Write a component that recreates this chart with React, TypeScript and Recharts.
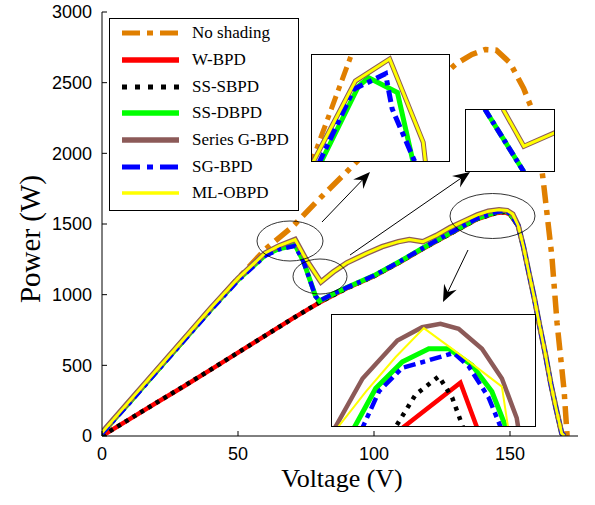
import React from "react";
import { LineChart, Line, XAxis, YAxis, Legend } from "recharts";

// ---- main curves (voltage V, power W) ----
const noShadeV = [0, 10, 20, 30, 40, 50, 60, 70, 80, 90, 100, 110, 120, 130, 136, 141, 145, 150, 155, 158.5, 160.5, 162.5, 165.4, 167.3, 169.9, 171];
const noShadeP = [20, 240, 460, 680, 900, 1115, 1320, 1480, 1680, 1870, 2065, 2260, 2460, 2630, 2700, 2735, 2730, 2640, 2460, 2290, 2080, 1760, 1270, 800, 320, 0];

const wbpdV = [0, 10, 20, 30, 40, 50, 60, 70, 76, 80, 85, 90, 100, 110, 118, 128, 138, 145, 148, 150, 153, 155, 157, 159, 161, 163, 165, 167, 169, 170];
const wbpdP = [0, 118, 235, 350, 470, 590, 710, 830, 900, 945, 995, 1045, 1130, 1235, 1325, 1430, 1535, 1578, 1583, 1568, 1485, 1330, 1145, 965, 765, 575, 365, 185, 18, 0];

const sssbpdV = [0, 10, 20, 30, 40, 50, 60, 70, 76, 80, 85, 90, 100, 110, 118, 128, 138, 145, 148, 150, 153, 155, 157, 159, 161, 163, 165, 167, 169, 170];
const sssbpdP = [0, 118, 235, 352, 470, 590, 710, 830, 900, 946, 996, 1045, 1131, 1236, 1326, 1431, 1536, 1579, 1585, 1570, 1487, 1332, 1147, 967, 767, 577, 367, 187, 18, 0];

const ssdbpdV = [0, 10, 20, 30, 40, 50, 60, 65, 71, 74, 78.5, 80, 85, 90, 100, 110, 118, 128, 138, 145, 148, 150, 153, 155, 157, 159, 161, 163, 165, 167, 169, 170];
const ssdbpdP = [20, 235, 455, 675, 895, 1105, 1280, 1325, 1350, 1240, 990, 955, 1005, 1050, 1135, 1240, 1330, 1436, 1540, 1585, 1595, 1575, 1490, 1335, 1150, 970, 770, 580, 370, 190, 20, 0];

const seriesGV = [0, 10, 20, 30, 40, 50, 60, 65, 71, 75, 80.5, 85, 90, 97, 103, 109, 113, 118, 123, 128, 133, 138, 142, 146, 149, 151, 153, 155, 157, 159, 161, 163, 165, 167, 169, 170];
const seriesGP = [25, 245, 465, 685, 905, 1115, 1295, 1345, 1390, 1250, 1090, 1160, 1225, 1290, 1340, 1375, 1390, 1375, 1420, 1475, 1520, 1565, 1590, 1600, 1595, 1570, 1490, 1335, 1150, 970, 770, 580, 370, 190, 20, 0];

const sgbpdV = [0, 10, 20, 30, 40, 50, 60, 65, 71, 74, 78.5, 80, 85, 90, 100, 110, 118, 128, 138, 145, 148, 150, 153, 155, 157, 159, 161, 163, 165, 167, 169, 170];
const sgbpdP = [18, 232, 452, 672, 890, 1100, 1275, 1320, 1345, 1238, 988, 957, 1005, 1050, 1135, 1240, 1330, 1436, 1540, 1585, 1595, 1575, 1490, 1335, 1150, 970, 770, 580, 370, 190, 20, 0];

const mlobpdV = [0, 10, 20, 30, 40, 50, 60, 65, 71, 75, 80.5, 85, 90, 97, 103, 109, 113, 118, 123, 128, 133, 138, 142, 146, 149, 151, 153, 155, 157, 159, 161, 163, 165, 167, 169, 170];
const mlobpdP = [25, 245, 465, 685, 905, 1115, 1295, 1345, 1390, 1250, 1090, 1160, 1225, 1290, 1340, 1375, 1390, 1375, 1420, 1475, 1520, 1565, 1590, 1600, 1595, 1570, 1490, 1335, 1150, 970, 770, 580, 370, 190, 20, 0];

// ---- inset 1 : first peak (~71 V) ----
const in1OrangeV = [67.9, 69.8];
const in1OrangeP = [1326, 1398];
const in1GreenV = [68.35, 70.04, 70.48, 71.74, 72.45];
const in1GreenP = [1328, 1376, 1381, 1372, 1328];
const in1BlueV = [68.28, 69.83, 70.86, 71.22, 71.51, 72.55];
const in1BlueP = [1328, 1374, 1381, 1383.5, 1362, 1328];
const in1YellowV = [68.0, 69.9, 71.4, 72.87, 72.98];
const in1YellowP = [1328, 1379, 1392.6, 1341.5, 1328];

// ---- inset 2 : dip (~80 V) ----
const in2GreenV = [78.5, 81.6];
const in2GreenP = [1112, 948];
const in2YellowV = [79.95, 81.6, 84.1];
const in2YellowP = [1112, 1015, 1051];

// ---- inset 3 : global peak (~148 V) ----
const in3BrownV = [140.0, 140.31, 142.41, 145.15, 147.11, 148.55, 149.98, 151.82, 153.39, 154.56, 154.75];
const in3BrownP = [1546, 1550, 1575.7, 1596.2, 1603.4, 1605.2, 1602.5, 1591.8, 1575.7, 1554.3, 1546];
const in3YellowV = [140.2, 142.67, 145.02, 147.24, 149.98, 153.39, 153.95];
const in3YellowP = [1547, 1568.6, 1587.3, 1602.9, 1589.1, 1571.3, 1546];
const in3GreenV = [141.5, 143.45, 145.55, 147.63, 149.2, 151.04, 152.6, 153.9];
const in3GreenP = [1546, 1570.4, 1584.7, 1591.8, 1591.8, 1582.8, 1568.6, 1546];
const in3BlueV = [142.2, 143.71, 145.55, 147.37, 149.59, 150.77, 152.34, 153.5];
const in3BlueP = [1546, 1568.8, 1581.5, 1585, 1589.5, 1582.3, 1565.4, 1546];
const in3BlackV = [144.7, 146.59, 148.42, 149.47, 150.5];
const in3BlackP = [1546, 1567, 1576.8, 1565.4, 1546];
const in3RedV = [145.0, 150.12, 151.6];
const in3RedP = [1546, 1573.4, 1546];

const xTicks = [0, 50, 100, 150];
const yTicks = [0, 500, 1000, 1500, 2000, 2500, 3000];

const ORANGE = "#E07F00";
const BROWN = "#8C5A58";

const pts = (vs: number[], ps: number[]) => vs.map((v, i) => ({ v, p: ps[i] }));

const legendItems = [
  { name: "No shading", color: ORANGE, width: 5, dash: "18 7 6 7" },
  { name: "W-BPD", color: "#FF0000", width: 5.5, dash: undefined },
  { name: "SS-SBPD", color: "#000000", width: 5, dash: "5 8" },
  { name: "SS-DBPD", color: "#00FF00", width: 5.5, dash: undefined },
  { name: "Series G-BPD", color: BROWN, width: 5.5, dash: undefined },
  { name: "SG-BPD", color: "#0000FF", width: 5, dash: "18 7 6 7" },
  { name: "ML-OBPD", color: "#FFFF00", width: 3.5, dash: undefined },
];

const serif = "'Liberation Serif', 'Times New Roman', serif";
const sans = "'Liberation Sans', Arial, sans-serif";

function LegendBox() {
  return (
    <div
      style={{
        width: 190,
        height: 193,
        border: "1px solid #000",
        background: "#fff",
        boxSizing: "border-box",
        paddingTop: 1,
        paddingLeft: 12,
      }}
    >
      {legendItems.map((it) => (
        <div key={it.name} style={{ display: "flex", alignItems: "center", height: 26.7 }}>
          <svg width={57} height={10} style={{ display: "block" }}>
            <line x1={0} y1={5} x2={57} y2={5} stroke={it.color} strokeWidth={it.width} strokeDasharray={it.dash} />
          </svg>
          <span style={{ marginLeft: 13, fontFamily: serif, fontSize: 17, color: "#000", whiteSpace: "nowrap" }}>{it.name}</span>
        </div>
      ))}
    </div>
  );
}

type InsetLine = { data: { v: number; p: number }[]; color: string; width: number; dash?: string };

function Inset(props: { left: number; top: number; width: number; height: number; xDomain: number[]; yDomain: number[]; lines: InsetLine[] }) {
  const { left, top, width, height, xDomain, yDomain, lines } = props;
  return (
    <div
      style={{
        position: "absolute",
        left,
        top,
        width,
        height,
        border: "1px solid #000",
        background: "#fff",
        boxSizing: "border-box",
      }}
    >
      <LineChart width={width - 2} height={height - 2} margin={{ top: 0, right: 0, bottom: 0, left: 0 }}>
        <XAxis type="number" dataKey="v" domain={xDomain} hide allowDataOverflow />
        <YAxis type="number" domain={yDomain} hide allowDataOverflow />
        {lines.map((l, i) => (
          <Line
            key={i}
            data={l.data}
            dataKey="p"
            stroke={l.color}
            strokeWidth={l.width}
            strokeDasharray={l.dash}
            dot={false}
            activeDot={false}
            isAnimationActive={false}
          />
        ))}
      </LineChart>
    </div>
  );
}

function Arrow({ x1, y1, x2, y2 }: { x1: number; y1: number; x2: number; y2: number }) {
  const dx = x2 - x1;
  const dy = y2 - y1;
  const L = Math.hypot(dx, dy);
  const ux = dx / L;
  const uy = dy / L;
  const nx = -uy;
  const ny = ux;
  const hl = 17;
  const hw = 7;
  const notch = 11;
  const head = [
    [x2, y2],
    [x2 - ux * hl + nx * hw, y2 - uy * hl + ny * hw],
    [x2 - ux * notch, y2 - uy * notch],
    [x2 - ux * hl - nx * hw, y2 - uy * hl - ny * hw],
  ]
    .map((q) => q.join(","))
    .join(" ");
  return (
    <g>
      <line x1={x1} y1={y1} x2={x2 - ux * notch} y2={y2 - uy * notch} stroke="#000" strokeWidth={1} />
      <polygon points={head} fill="#000" />
    </g>
  );
}

const mainLines = [
  { data: pts(noShadeV, noShadeP), color: ORANGE, width: 5.5, dash: "18 7 5 7" },
  { data: pts(wbpdV, wbpdP), color: "#FF0000", width: 4.5 },
  { data: pts(sssbpdV, sssbpdP), color: "#000000", width: 4.5, dash: "4 5" },
  { data: pts(ssdbpdV, ssdbpdP), color: "#00FF00", width: 5 },
  { data: pts(seriesGV, seriesGP), color: BROWN, width: 5.5 },
  { data: pts(sgbpdV, sgbpdP), color: "#0000FF", width: 4.5, dash: "10 5 4 5" },
  { data: pts(mlobpdV, mlobpdP), color: "#FFFF00", width: 3 },
];

export default function App() {
  const tickStyle = { fontFamily: sans, fontSize: 18, fill: "#000" };
  return (
    <div style={{ position: "absolute", left: 0, top: 0, width: 595, height: 505, background: "#fff" }}>
      <LineChart width={595} height={505} margin={{ top: 12, right: 17, bottom: 0, left: 0 }}>
        <XAxis
          type="number"
          dataKey="v"
          domain={[0, 175]}
          ticks={xTicks}
          height={69}
          tickSize={-5}
          tickMargin={16}
          tick={tickStyle}
          stroke="#000"
          allowDataOverflow
          label={{
            content: (p: any) => (
              <text x={p.viewBox.x + p.viewBox.width / 2 + 2} y={p.viewBox.y + 51} textAnchor="middle" fontFamily={serif} fontSize={26} fill="#000">
                Voltage (V)
              </text>
            ),
          }}
        />
        <XAxis
          xAxisId="top"
          orientation="top"
          type="number"
          domain={[0, 175]}
          ticks={xTicks}
          height={0}
          tickSize={-5}
          tickFormatter={() => ""}
          stroke="#000"
        />
        <YAxis
          type="number"
          domain={[0, 3000]}
          ticks={yTicks}
          width={102}
          tickSize={-5}
          tickMargin={15}
          tick={tickStyle}
          stroke="#000"
          allowDataOverflow
          label={{
            content: (p: any) => {
              const cx = p.viewBox.x + 40;
              const cy = p.viewBox.y + p.viewBox.height / 2 + 15;
              return (
                <text x={cx} y={cy} transform={`rotate(-90 ${cx} ${cy})`} textAnchor="middle" fontFamily={serif} fontSize={29} fill="#000">
                  Power (W)
                </text>
              );
            },
          }}
        />
        <YAxis
          yAxisId="right"
          orientation="right"
          type="number"
          domain={[0, 3000]}
          ticks={yTicks}
          width={0}
          tickSize={-5}
          tickFormatter={() => ""}
          stroke="#000"
        />
        {mainLines.map((l, i) => (
          <Line
            key={i}
            data={l.data}
            dataKey="p"
            stroke={l.color}
            strokeWidth={l.width}
            strokeDasharray={l.dash}
            dot={false}
            activeDot={false}
            isAnimationActive={false}
          />
        ))}
        <Legend
          layout="vertical"
          align="center"
          verticalAlign="middle"
          wrapperStyle={{ left: 109, top: 18, width: 190, height: 193 }}
          content={() => <LegendBox />}
        />
      </LineChart>

      <svg width={595} height={505} style={{ position: "absolute", left: 0, top: 0, pointerEvents: "none" }}>
        <ellipse cx={290} cy={241} rx={33} ry={20} fill="none" stroke="#000" strokeWidth={0.8} />
        <ellipse cx={320} cy={276.5} rx={27} ry={17.5} fill="none" stroke="#000" strokeWidth={0.8} />
        <ellipse cx={492.5} cy={216} rx={42.5} ry={22.5} fill="none" stroke="#000" strokeWidth={0.8} />
        <Arrow x1={322} y1={222} x2={370} y2={172} />
        <Arrow x1={350} y1={255} x2={470} y2={172} />
        <Arrow x1={468} y1={250} x2={443} y2={302} />
      </svg>

      <Inset
        left={311}
        top={54}
        width={139}
        height={108}
        xDomain={[68, 74]}
        yDomain={[1330, 1395]}
        lines={[
          { data: pts(in1OrangeV, in1OrangeP), color: ORANGE, width: 5, dash: "14 6 5 6" },
          { data: pts(in1GreenV, in1GreenP), color: "#00FF00", width: 5 },
          { data: pts(in1YellowV, in1YellowP), color: BROWN, width: 5 },
          { data: pts(in1BlueV, in1BlueP), color: "#0000FF", width: 5, dash: "12 5 5 5" },
          { data: pts(in1YellowV, in1YellowP), color: "#FFFF00", width: 3 },
        ]}
      />
      <Inset
        left={465}
        top={109}
        width={90}
        height={63}
        xDomain={[77, 84]}
        yDomain={[950, 1110]}
        lines={[
          { data: pts(in2GreenV, in2GreenP), color: "#00FF00", width: 5 },
          { data: pts(in2YellowV, in2YellowP), color: BROWN, width: 5 },
          { data: pts(in2GreenV, in2GreenP), color: "#0000FF", width: 5, dash: "10 4 4 4" },
          { data: pts(in2YellowV, in2YellowP), color: "#FFFF00", width: 3 },
        ]}
      />
      <Inset
        left={331}
        top={314}
        width={205}
        height={113}
        xDomain={[140, 156]}
        yDomain={[1550, 1610]}
        lines={[
          { data: pts(in3RedV, in3RedP), color: "#FF0000", width: 4.5 },
          { data: pts(in3BlackV, in3BlackP), color: "#000000", width: 4.5, dash: "4 6" },
          { data: pts(in3GreenV, in3GreenP), color: "#00FF00", width: 5 },
          { data: pts(in3BrownV, in3BrownP), color: BROWN, width: 4.5 },
          { data: pts(in3BlueV, in3BlueP), color: "#0000FF", width: 4.5, dash: "12 5 5 5" },
          { data: pts(in3YellowV, in3YellowP), color: "#FFFF00", width: 2 },
        ]}
      />
    </div>
  );
}
